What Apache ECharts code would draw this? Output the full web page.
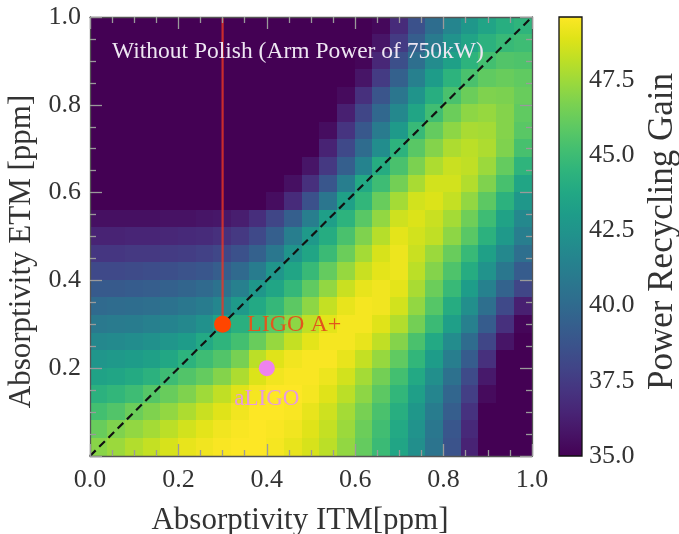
<!DOCTYPE html>
<html><head><meta charset="utf-8">
<script src="https://cdn.jsdelivr.net/npm/echarts@6/dist/echarts.min.js"></script>
<style>html,body{margin:0;padding:0;background:#fff}#c{width:679px;height:534px}</style>
</head><body><div id="c"></div>
<script>
// ---- data ----
const itmCenters = [0.02,0.06,0.10,0.14,0.18,0.22,0.26,0.30,0.34,0.38,0.42,0.46,0.50,0.54,0.58,0.62,0.66,0.70,0.74,0.78,0.82,0.86,0.90,0.94,0.98];
const etmCenters = [0.98,0.94,0.90,0.86,0.82,0.78,0.74,0.70,0.66,0.62,0.58,0.54,0.50,0.46,0.42,0.38,0.34,0.30,0.26,0.22,0.18,0.14,0.10,0.06,0.02];
const gain = [
 [35,35,35,35,35,35,35,35,35,35,35,35,35,35,35,35,35.3,36.8,38.6,40.2,41.6,42.7,43.5,44.1,44.5],
 [35,35,35,35,35,35,35,35,35,35,35,35,35,35,35,35,35.8,37.5,39.3,41,42.4,43.5,44.3,44.8,45],
 [35,35,35,35,35,35,35,35,35,35,35,35,35,35,35,35.2,36.6,38.5,40.3,42,43.3,44.4,45.2,45.6,45.5],
 [35,35,35,35,35,35,35,35,35,35,35,35,35,35,35,35.8,37.5,39.5,41.3,43,44.4,45.4,46,46.2,46],
 [35,35,35,35,35,35,35,35,35,35,35,35,35,35,35.4,37,38.8,40.7,42.5,44.1,45.4,46.3,46.8,46.7,46.2],
 [35,35,35,35,35,35,35,35,35,35,35,35,35,35,36.3,38,39.9,41.8,43.6,45.1,46.3,47.1,47.3,46.9,46],
 [35,35,35,35,35,35,35,35,35,35,35,35,35,35.5,37.2,39,41,42.9,44.8,46.1,47.1,47.7,47.6,46.9,45.8],
 [35,35,35,35,35,35,35,35,35,35,35,35,35,36.4,38.2,40.1,42.1,44.4,45.8,46.9,47.8,48.1,47.8,46.8,45.3],
 [35,35,35,35,35,35,35,35,35,35,35,35,35.8,37.4,39.4,41.5,44,45.4,46.7,47.8,48.4,48.2,47.4,46.1,44.5],
 [35,35,35,35,35,35,35,35,35,35,35,35.6,37,38.9,41.2,43.8,45,46.5,47.7,48.6,48.6,47.9,46.8,45.3,43.6],
 [35,35,35,35,35,35,35,35,35,35,35.5,36.8,38.6,40.7,43.3,44.6,46.2,47.6,48.6,48.8,48.3,47.2,45.9,44.3,42.7],
 [35.6,35.6,35.6,35.6,35.7,35.7,35.8,35.9,36.2,36.9,38,39.4,41.2,43.2,44.4,45.8,47.2,48.5,48.8,48.4,47.6,46.4,45,43.4,41.8],
 [36.4,36.4,36.5,36.5,36.6,36.7,36.8,37,37.4,38.2,39.4,41.2,42.8,44,45.4,46.8,48,49,48.6,48.2,47.1,45.8,44.3,42.8,41.2],
 [37.3,37.3,37.4,37.4,37.5,37.6,37.8,38.1,38.6,39.5,40.8,42.5,43.6,44.9,46.3,47.6,48.7,49.2,48.4,47.4,46.2,44.8,43.3,41.8,40.3],
 [38.2,38.2,38.3,38.4,38.5,38.7,38.9,39.3,40,41.1,42.6,43.6,44.8,46.1,47.3,48.4,49,49.2,48.1,46.9,45.5,44,42.4,40.8,39.2],
 [39.1,39.1,39.2,39.3,39.5,39.7,40,40.5,41.3,42.7,43.6,44.7,46,47.2,48.4,49.1,49.3,49,47.7,46.3,44.8,43.1,41.4,39.6,38],
 [40,40.1,40.2,40.3,40.5,40.8,41.1,41.7,42.9,43.8,44.7,45.9,47.1,48.3,49.1,49.4,49.3,48.6,47.2,45.7,44,42.2,40.3,38.2,36.3],
 [40.9,41,41.1,41.3,41.5,41.8,42.3,43.4,44.2,44.9,45.9,47.1,48.2,49,49.4,49.4,48.9,47.9,46.5,44.9,43.2,41.3,39.2,37,35.2],
 [41.8,41.9,42.1,42.3,42.6,43,43.8,44.5,45.2,46.2,47.3,48.3,49,49.4,49.4,49.1,48.2,46.9,45.4,43.8,42,40.1,38,35.8,35],
 [42.6,42.8,43,43.3,43.7,44.4,45,45.6,46.6,48.1,48.9,49.3,49.5,49.5,49.1,48.3,47.3,46,44.6,43,41.2,39.2,37,35,35],
 [43.4,43.6,43.9,44.3,45,45.6,46.1,46.9,47.8,48.8,49.3,49.5,49.5,49.2,48.6,47.6,46.5,45.2,43.8,42.2,40.4,38.3,36,35,35],
 [44.3,44.6,45,45.7,46.2,46.8,47.5,48.2,48.9,49.4,49.6,49.6,49.4,48.9,48.1,47.1,45.9,44.6,43.2,41.6,39.8,37.7,35.4,35,35],
 [45.2,45.6,46.3,46.8,47.2,47.8,48.4,48.9,49.3,49.6,49.6,49.5,49.1,48.5,47.6,46.6,45.4,44.1,42.7,41.1,39.3,37.1,35,35,35],
 [46.2,46.8,47.2,47.6,48.1,48.6,49,49.3,49.5,49.6,49.5,49.3,48.9,48.3,47.4,46.3,45.1,43.8,42.4,40.8,38.9,36.7,35,35,35],
 [47,47.4,47.9,48.3,48.7,49.1,49.3,49.5,49.6,49.6,49.4,49.1,48.7,48.1,47.2,46.1,44.9,43.6,42.2,40.6,38.7,36.4,35,35,35]
];
const gainRange = [35, 49.6];
const diagonal = [[0, 0], [1, 1]];
const ligoAPlus = [0.3, 0.3];
const aPlusTrack = [[0.3, 0.3], [0.3, 1.0]];
const aLigo = [0.4, 0.2];
const annotation = 'Without Polish (Arm Power of 750kW)';

// ---- rendering ----
const FONT = '"Liberation Serif","DejaVu Serif",serif';
const viridis = ['#440154','#471365','#482475','#463480','#414487','#3b528b','#355f8d','#2f6c8e','#2a788e','#25848e','#21918c','#1e9c89','#22a884','#2fb47c','#44bf70','#5ec962','#7ad151','#9bd93c','#bddf26','#dfe318','#fde725'];
const cells = [];
etmCenters.forEach((y, i) => itmCenters.forEach((x, j) => cells.push([x, y, gain[i][j]])));
const half = (itmCenters[1] - itmCenters[0]) / 2;

const tickStyle = {color: '#9a9a9a', width: 1.3};
const frame = {show: true, onZero: false, lineStyle: {color: '#555', width: 1.3}};
function mainAxis(pos, showLabel, name) {
  return {
    gridIndex: 0, type: 'value', min: 0, max: 1, interval: 0.2, position: pos, z: 10,
    axisLine: frame,
    axisTick: {show: true, inside: true, length: 12, lineStyle: tickStyle},
    minorTick: {show: true, splitNumber: 4, length: 6, lineStyle: tickStyle},
    splitLine: {show: false}, minorSplitLine: {show: false},
    axisLabel: {show: showLabel},
    name: name || '', nameLocation: 'middle'
  };
}
const xMain = mainAxis('bottom', true, 'Absorptivity ITM[ppm]');
xMain.axisLabel = {show: true, formatter: v => v.toFixed(1), fontFamily: FONT, fontSize: 26, color: '#333', margin: 11};
xMain.nameGap = 49;
xMain.nameTextStyle = {fontFamily: FONT, fontSize: 31, color: '#333', padding: [0, 22, 0, 0]};
const yMain = mainAxis('left', true, 'Absorptivity ETM [ppm]');
yMain.axisLabel = {show: true, formatter: v => (v === 0 ? '' : v.toFixed(1)), fontFamily: FONT, fontSize: 26, color: '#333', margin: 9};
yMain.nameGap = 48;
yMain.nameTextStyle = {fontFamily: FONT, fontSize: 31, color: '#333', padding: [0, 30, 0, 0]};

const option = {
  animation: false,
  backgroundColor: '#fff',
  title: {text: annotation, left: 112, top: 40, padding: 0,
    textStyle: {color: '#eee6f2', fontSize: 23.5, fontWeight: 'normal', fontFamily: FONT}},
  grid: [
    {left: 90, top: 17, width: 442, height: 439, show: false, containLabel: false, outerBoundsMode: 'none'},
    {left: 559, top: 17, width: 23, height: 439, show: false, containLabel: false, outerBoundsMode: 'none'}
  ],
  xAxis: [xMain, mainAxis('top', false),
    {gridIndex: 1, type: 'value', min: 0, max: 1, show: false}],
  yAxis: [yMain, mainAxis('right', false),
    {gridIndex: 1, type: 'value', min: gainRange[0], max: gainRange[1], interval: 2.5, position: 'right',
     axisLine: {show: false}, axisTick: {show: false}, splitLine: {show: false},
     axisLabel: {formatter: v => (v > 48 ? '' : v.toFixed(1)), fontFamily: FONT, fontSize: 26, color: '#333', margin: 7},
     name: 'Power Recycling Gain', nameLocation: 'middle', nameRotate: 90, nameGap: 63,
     nameTextStyle: {fontFamily: FONT, fontSize: 35, color: '#333', padding: [0, 0, 0, 10]}}],
  visualMap: {show: false, type: 'continuous', min: gainRange[0], max: gainRange[1], dimension: 2, seriesIndex: 0,
    inRange: {color: viridis}},
  series: [
    {type: 'custom', xAxisIndex: 0, yAxisIndex: 0, data: cells, encode: {x: 0, y: 1}, clip: true, z: 1,
     renderItem: (params, api) => {
       const x = api.value(0), y = api.value(1);
       const a = api.coord([x - half, y + half]), b = api.coord([x + half, y - half]);
       const x0 = Math.floor(a[0]), y0 = Math.floor(a[1]), x1 = Math.ceil(b[0]), y1 = Math.ceil(b[1]);
       return {type: 'rect', shape: {x: x0, y: y0, width: x1 - x0, height: y1 - y0}, style: {fill: api.visual('color')}};
     }},
    {type: 'custom', xAxisIndex: 2, yAxisIndex: 2, data: [[0, gainRange[0], gainRange[1]]], z: 1, silent: true,
     renderItem: (params, api) => {
       const a = api.coord([0, api.value(2)]), b = api.coord([1, api.value(1)]);
       const stops = viridis.map((c, i) => ({offset: i / (viridis.length - 1), color: c}));
       return {type: 'rect', shape: {x: a[0], y: a[1], width: b[0] - a[0], height: b[1] - a[1]},
         style: {fill: new echarts.graphic.LinearGradient(0, 1, 0, 0, stops), stroke: '#111', lineWidth: 1.3}};
     }},
    {type: 'line', xAxisIndex: 0, yAxisIndex: 0, data: diagonal, symbol: 'none', z: 5, silent: true,
     lineStyle: {color: '#111', width: 2.2, type: [8, 5]}},
    {type: 'line', xAxisIndex: 0, yAxisIndex: 0, data: aPlusTrack, symbol: 'none', z: 5, silent: true,
     lineStyle: {color: 'rgba(235,55,35,0.8)', width: 2.2}},
    {type: 'scatter', xAxisIndex: 0, yAxisIndex: 0, data: [ligoAPlus], symbolSize: 17, z: 6,
     itemStyle: {color: '#ff4500', opacity: 1},
     label: {show: true, formatter: 'LIGO A+', position: 'right', distance: 16, color: '#e2561c', fontSize: 24, fontFamily: FONT}},
    {type: 'scatter', xAxisIndex: 0, yAxisIndex: 0, data: [aLigo], symbolSize: 16, z: 6,
     itemStyle: {color: '#ee82ee', opacity: 1},
     label: {show: true, formatter: 'aLIGO', position: 'bottom', distance: 11, color: '#e79adf', fontSize: 23, fontFamily: FONT}}
  ]
};
const chart = echarts.init(document.getElementById('c'), null, {renderer: 'canvas'});
chart.setOption(option);
</script></body></html>
